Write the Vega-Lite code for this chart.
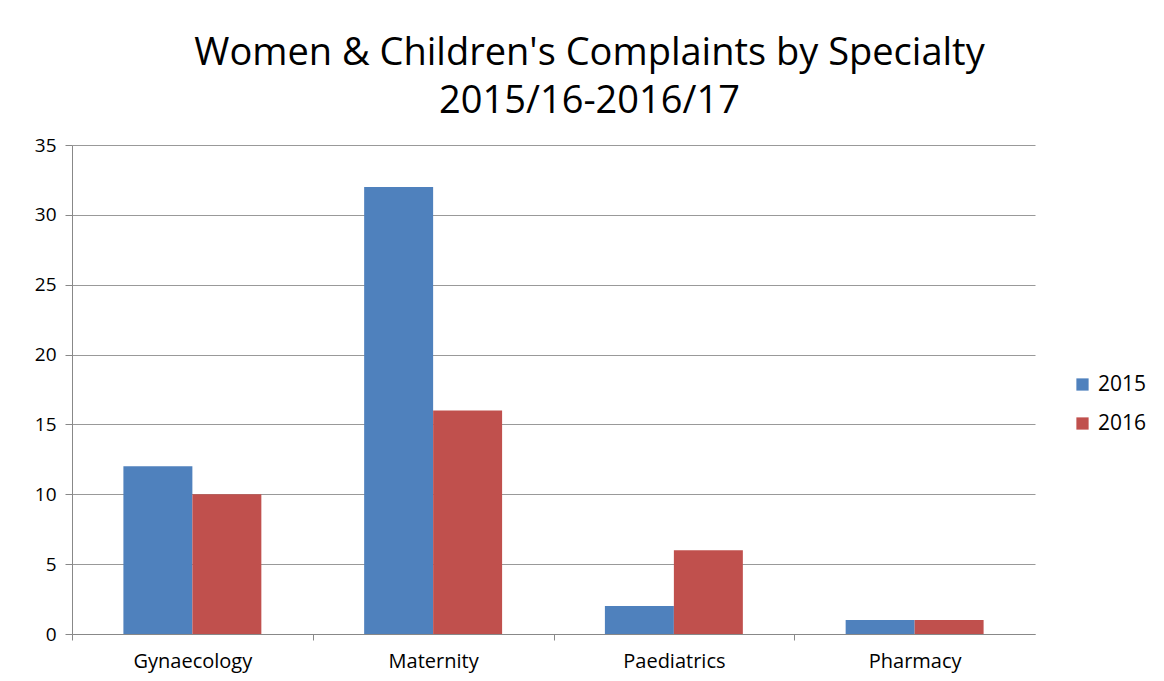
{
  "$schema": "https://vega.github.io/schema/vega-lite/v6.json",
  "width": 963,
  "height": 489,
  "autosize": {"type": "none"},
  "padding": {"left": 72, "top": 145, "right": 129, "bottom": 47},
  "background": "white",
  "title": {
    "text": ["Women & Children's Complaints by Specialty", "2015/16-2016/17"],
    "font": "Open Sans",
    "fontSize": 38,
    "fontWeight": "normal",
    "color": "#000000",
    "anchor": "middle",
    "frame": "group",
    "dx": 36,
    "offset": 15,
    "lineHeight": 48
  },
  "data": {
    "values": [
      {"specialty": "Gynaecology", "year": "2015", "complaints": 12},
      {"specialty": "Gynaecology", "year": "2016", "complaints": 10},
      {"specialty": "Maternity", "year": "2015", "complaints": 32},
      {"specialty": "Maternity", "year": "2016", "complaints": 16},
      {"specialty": "Paediatrics", "year": "2015", "complaints": 2},
      {"specialty": "Paediatrics", "year": "2016", "complaints": 6},
      {"specialty": "Pharmacy", "year": "2015", "complaints": 1},
      {"specialty": "Pharmacy", "year": "2016", "complaints": 1}
    ]
  },
  "mark": {"type": "bar"},
  "encoding": {
    "x": {
      "field": "specialty",
      "type": "nominal",
      "sort": ["Gynaecology", "Maternity", "Paediatrics", "Pharmacy"],
      "scale": {"paddingInner": 0.427, "paddingOuter": 0.2135},
      "axis": {
        "title": null,
        "labelAngle": 0,
        "labelFont": "Open Sans",
        "labelFontSize": 20,
        "labelColor": "#000000",
        "labelPadding": 11,
        "tickOffset": -120.375,
        "labelOffset": 120.375,
        "tickSize": 6,
        "tickColor": "#888888",
        "domainColor": "#888888",
        "grid": false
      }
    },
    "xOffset": {"field": "year", "type": "nominal", "scale": {"paddingInner": 0, "paddingOuter": 0}},
    "y": {
      "field": "complaints",
      "type": "quantitative",
      "scale": {"domain": [0, 35], "nice": false},
      "axis": {
        "title": null,
        "values": [0, 5, 10, 15, 20, 25, 30, 35],
        "labelFont": "Open Sans",
        "labelFontSize": 19,
        "labelColor": "#000000",
        "labelPadding": 9,
        "tickSize": 7,
        "tickColor": "#888888",
        "domainColor": "#888888",
        "grid": true,
        "gridColor": "#999999",
        "gridWidth": 1
      }
    },
    "color": {
      "field": "year",
      "type": "nominal",
      "scale": {"domain": ["2015", "2016"], "range": ["#4F81BD", "#C0504D"]},
      "legend": {
        "title": null,
        "orient": "none",
        "legendX": 1000,
        "legendY": 229,
        "symbolType": "square",
        "symbolSize": 150,
        "symbolStrokeWidth": 0,
        "labelFont": "Open Sans",
        "labelFontSize": 21,
        "labelColor": "#000000",
        "labelOffset": 5,
        "rowPadding": 17
      }
    }
  },
  "config": {"view": {"stroke": null}}
}
